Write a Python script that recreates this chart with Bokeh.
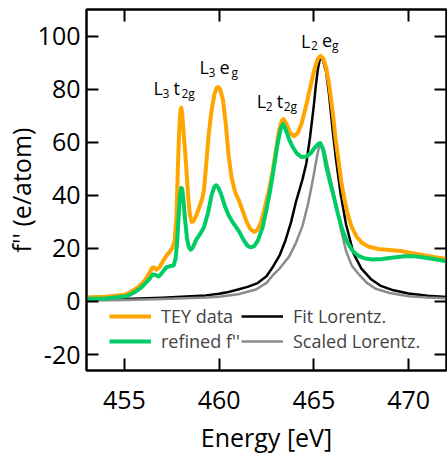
from bokeh.plotting import figure
from bokeh.models import Legend, LegendItem, Label, LinearAxis, FixedTicker, Range1d
from bokeh.embed import file_html
from bokeh.resources import INLINE

# ---------------- data ----------------
tey_e = [453.0, 454.0, 455.0, 455.3, 455.6, 455.85, 456.1, 456.3, 456.45, 456.55, 456.7, 456.85,
         457.0, 457.2, 457.4, 457.55, 457.65, 457.75, 457.82, 457.9, 457.96, 458.0, 458.05, 458.12,
         458.21, 458.28, 458.36, 458.45, 458.55, 458.65, 458.8, 458.95, 459.1, 459.2, 459.3, 459.45,
         459.6, 459.75, 459.87, 459.95, 460.05, 460.2, 460.35, 460.5, 460.65, 460.85, 461.05, 461.25,
         461.45, 461.65, 461.85, 462.0, 462.2, 462.4, 462.6, 462.8, 463.0, 463.15, 463.3, 463.4,
         463.55, 463.75, 463.95, 464.15, 464.35, 464.6, 464.85, 465.05, 465.2, 465.35, 465.5, 465.65,
         465.8, 466.0, 466.15, 466.3, 466.45, 466.6, 466.8, 467.0, 467.25, 467.55, 467.9, 468.4,
         469.0, 469.6, 470.2, 470.8, 471.4, 472.0]
tey_f = [1.5, 1.8, 2.5, 3.4, 4.8, 6.2, 8.2, 10.5, 12.6, 12.9, 12.0, 12.8,
         14.8, 17.0, 18.8, 20.5, 23.0, 32.0, 50.0, 66.0, 72.0, 73.0, 71.0, 64.0,
         56.0, 49.0, 40.0, 33.0, 30.0, 30.3, 32.5, 35.5, 38.5, 42.0, 50.0, 63.0,
         72.0, 78.0, 80.5, 80.8, 80.0, 76.0, 67.0, 55.0, 47.0, 41.0, 38.0, 34.0,
         30.0, 27.3, 26.2, 26.8, 29.5, 35.0, 41.0, 48.0, 57.0, 64.0, 68.0, 68.7,
         67.0, 63.5, 62.3, 63.5, 67.0, 74.0, 82.0, 88.0, 91.3, 92.5, 91.5, 88.0,
         82.0, 71.0, 61.0, 53.0, 45.0, 39.0, 32.5, 28.0, 24.5, 22.0, 20.6, 19.8,
         19.4, 19.0, 18.2, 17.4, 16.7, 16.0]

ref_e = [453.0, 454.0, 455.1, 455.35, 455.6, 455.85, 456.05, 456.3, 456.5, 456.65, 456.8, 456.95,
         457.2, 457.4, 457.6, 457.7, 457.78, 457.86, 457.94, 458.0, 458.05, 458.12, 458.2, 458.3,
         458.4, 458.5, 458.6, 458.8, 459.0, 459.2, 459.4, 459.6, 459.75, 459.85, 459.95, 460.1,
         460.3, 460.5, 460.75, 461.05, 461.3, 461.5, 461.65, 461.85, 462.05, 462.3, 462.5, 462.7,
         462.9, 463.1, 463.25, 463.37, 463.5, 463.7, 463.9, 464.1, 464.35, 464.6, 464.85, 465.05,
         465.25, 465.35, 465.5, 465.65, 465.85, 466.0, 466.25, 466.5, 466.75, 467.05, 467.35, 467.7,
         468.1, 468.6, 469.2, 469.8, 470.3, 470.8, 471.4, 472.0]
ref_f = [1.0, 1.1, 2.0, 2.8, 3.8, 5.0, 6.4, 8.3, 10.2, 10.0, 9.4, 10.5,
         12.8, 13.3, 13.6, 16.0, 22.0, 32.0, 40.0, 42.8, 42.5, 38.0, 31.0, 24.0,
         20.5, 19.5, 20.2, 23.4, 25.5, 28.0, 33.0, 40.0, 43.3, 43.8, 43.0, 40.5,
         36.0, 32.5, 29.5, 26.4, 23.0, 21.0, 20.4, 20.8, 23.0, 28.0, 34.7, 42.0,
         51.0, 60.0, 65.0, 66.8, 65.0, 61.0, 58.0, 55.8, 54.4, 54.6, 56.0, 58.0,
         59.5, 59.6, 57.0, 51.0, 45.0, 41.0, 33.5, 27.0, 22.5, 19.0, 17.2, 16.2,
         15.8, 16.0, 16.6, 17.0, 17.0, 16.6, 15.9, 15.1]

fit_e = [453.0, 455.0, 457.0, 458.0, 459.3, 460.0, 460.5, 461.0, 461.5, 462.0, 462.5, 462.85,
         463.2, 463.5, 463.8, 464.05, 464.4, 464.6, 464.8, 465.0, 465.1, 465.2, 465.3, 465.38,
         465.46, 465.55, 465.65, 465.8, 466.0, 466.16, 466.4, 466.7, 467.1, 467.5, 468.0, 468.5,
         469.2, 470.0, 471.0, 472.0]
fit_f = [0.6, 0.9, 1.4, 1.8, 2.3, 2.9, 3.6, 4.5, 5.5, 6.8, 9.5, 13.2,
         17.5, 23.0, 30.0, 37.4, 46.0, 52.0, 62.0, 74.0, 81.0, 87.0, 90.8, 92.0,
         91.5, 89.0, 86.5, 78.0, 64.0, 54.0, 41.0, 29.0, 18.0, 12.5, 8.5, 6.0,
         4.2, 3.0, 2.2, 1.7]

scl_e = [453.0, 455.0, 457.0, 459.3, 460.0, 461.0, 461.95, 462.5, 462.85, 463.2, 463.7, 464.05,
         464.4, 464.7, 464.95, 465.05, 465.15, 465.25, 465.35, 465.45, 465.55, 465.65, 465.85, 466.0,
         466.16, 466.4, 466.7, 467.0, 467.4, 467.8, 468.26, 469.0, 470.0, 471.0, 472.0]
scl_f = [0.4, 0.6, 0.9, 1.5, 1.8, 2.7, 4.5, 7.0, 10.0, 12.5, 17.0, 22.0,
         28.5, 37.0, 46.0, 50.0, 54.0, 57.5, 59.0, 58.5, 56.5, 53.6, 47.0, 42.0,
         37.0, 28.0, 19.0, 13.5, 10.0, 7.0, 4.8, 3.2, 2.0, 1.5, 1.2]

x_ticks = [455, 460, 465, 470]
y_ticks = [-20, 0, 20, 40, 60, 80, 100]
y_tick_text = {-20: "-20"}
legend_labels = ["TEY data", "refined f''", "Fit Lorentz.", "Scaled Lorentz."]
x_title = "Energy [eV]"
y_title = "f'' (e/atom)"

# ---------------- figure ----------------
FONT = "Open Sans"
p = figure(width=447, height=458, x_range=Range1d(453, 472), y_range=Range1d(-26, 110),
           output_backend="svg", toolbar_location=None,
           min_border_left=86, min_border_right=1, min_border_top=9, min_border_bottom=88,
           x_axis_label=x_title, y_axis_label=y_title)
p.grid.visible = False
p.outline_line_color = "black"
p.outline_line_width = 2
p.outline_line_alpha = 1.0
p.background_fill_color = "white"
p.border_fill_color = "white"

p.add_layout(LinearAxis(), "above")
p.add_layout(LinearAxis(), "right")

for ax in p.xaxis:
    ax.ticker = FixedTicker(ticks=x_ticks, minor_ticks=[])
for ax in p.yaxis:
    ax.ticker = FixedTicker(ticks=y_ticks, minor_ticks=[])

for ax in p.axis:
    ax.major_tick_in = 12
    ax.major_tick_out = 0
    ax.minor_tick_in = 0
    ax.minor_tick_out = 0
    ax.axis_line_width = 2
    ax.axis_line_color = "black"
    ax.major_tick_line_width = 2
    ax.major_tick_line_color = "black"
    ax.major_label_text_font = FONT
    ax.major_label_text_font_size = "25px"
    ax.major_label_text_color = "black"
    ax.axis_label_text_font = FONT
    ax.axis_label_text_font_size = "25px"
    ax.axis_label_text_font_style = "normal"
    ax.axis_label_text_color = "black"

p.below[0].major_label_standoff = 20
p.below[0].axis_label_standoff = 8
p.left[0].major_label_standoff = 6
p.left[0].axis_label_standoff = -3
p.left[0].major_label_overrides = y_tick_text
for ax in (p.above[0], p.right[0]):
    ax.major_label_text_font_size = "0px"
    ax.major_label_standoff = 0
    ax.major_label_text_alpha = 0

# ---------------- curves ----------------
r_fit = p.line(fit_e, fit_f, line_color="black", line_width=2.5, line_join="round")
r_scl = p.line(scl_e, scl_f, line_color="#8c8c8c", line_width=2.5, line_join="round")
r_tey = p.line(tey_e, tey_f, line_color="#ffa500", line_width=4, line_join="round")
r_ref = p.line(ref_e, ref_f, line_color="#00cc66", line_width=4, line_join="round")

common = dict(background_fill_alpha=0, border_line_alpha=0, padding=0, margin=0, spacing=1,
              glyph_width=42, glyph_height=20, label_height=20, label_standoff=10,
              label_text_font=FONT, label_text_font_size="18px")
leg1 = Legend(items=[LegendItem(label=legend_labels[0], renderers=[r_tey]),
                     LegendItem(label=legend_labels[1], renderers=[r_ref])],
              location=(23, 17), **common)
leg2 = Legend(items=[LegendItem(label=legend_labels[2], renderers=[r_fit]),
                     LegendItem(label=legend_labels[3], renderers=[r_scl])],
              location=(155, 17), **common)
p.add_layout(leg1)
p.add_layout(leg2)

# ---------------- peak annotations ----------------
def annotate(x, y, parts):
    for text, dx, dy, size in parts:
        p.add_layout(Label(x=x, y=y, x_offset=dx, y_offset=dy, text=text,
                           text_font=FONT, text_font_size=size,
                           text_baseline="alphabetic", text_color="black"))

annotate(456.53, 80.4, [("L", 0, 0, "18px"), ("3", 9, -5, "12px"),
                        ("t", 20, 0, "18px"), ("2g", 28, -5, "12px")])
annotate(458.96, 88.3, [("L", 0, 0, "18px"), ("3", 9, -5, "12px"),
                        ("e", 20, 0, "18px"), ("g", 32, -5, "12px")])
annotate(461.98, 75.5, [("L", 0, 0, "18px"), ("2", 9, -5, "12px"),
                        ("t", 20, 0, "18px"), ("2g", 27, -5, "12px")])
annotate(464.32, 98.2, [("L", 0, 0, "18px"), ("2", 10, -5, "12px"),
                        ("e", 21, 0, "18px"), ("g", 31, -5, "12px")])

open("out.html", "w").write(file_html(p, INLINE))
